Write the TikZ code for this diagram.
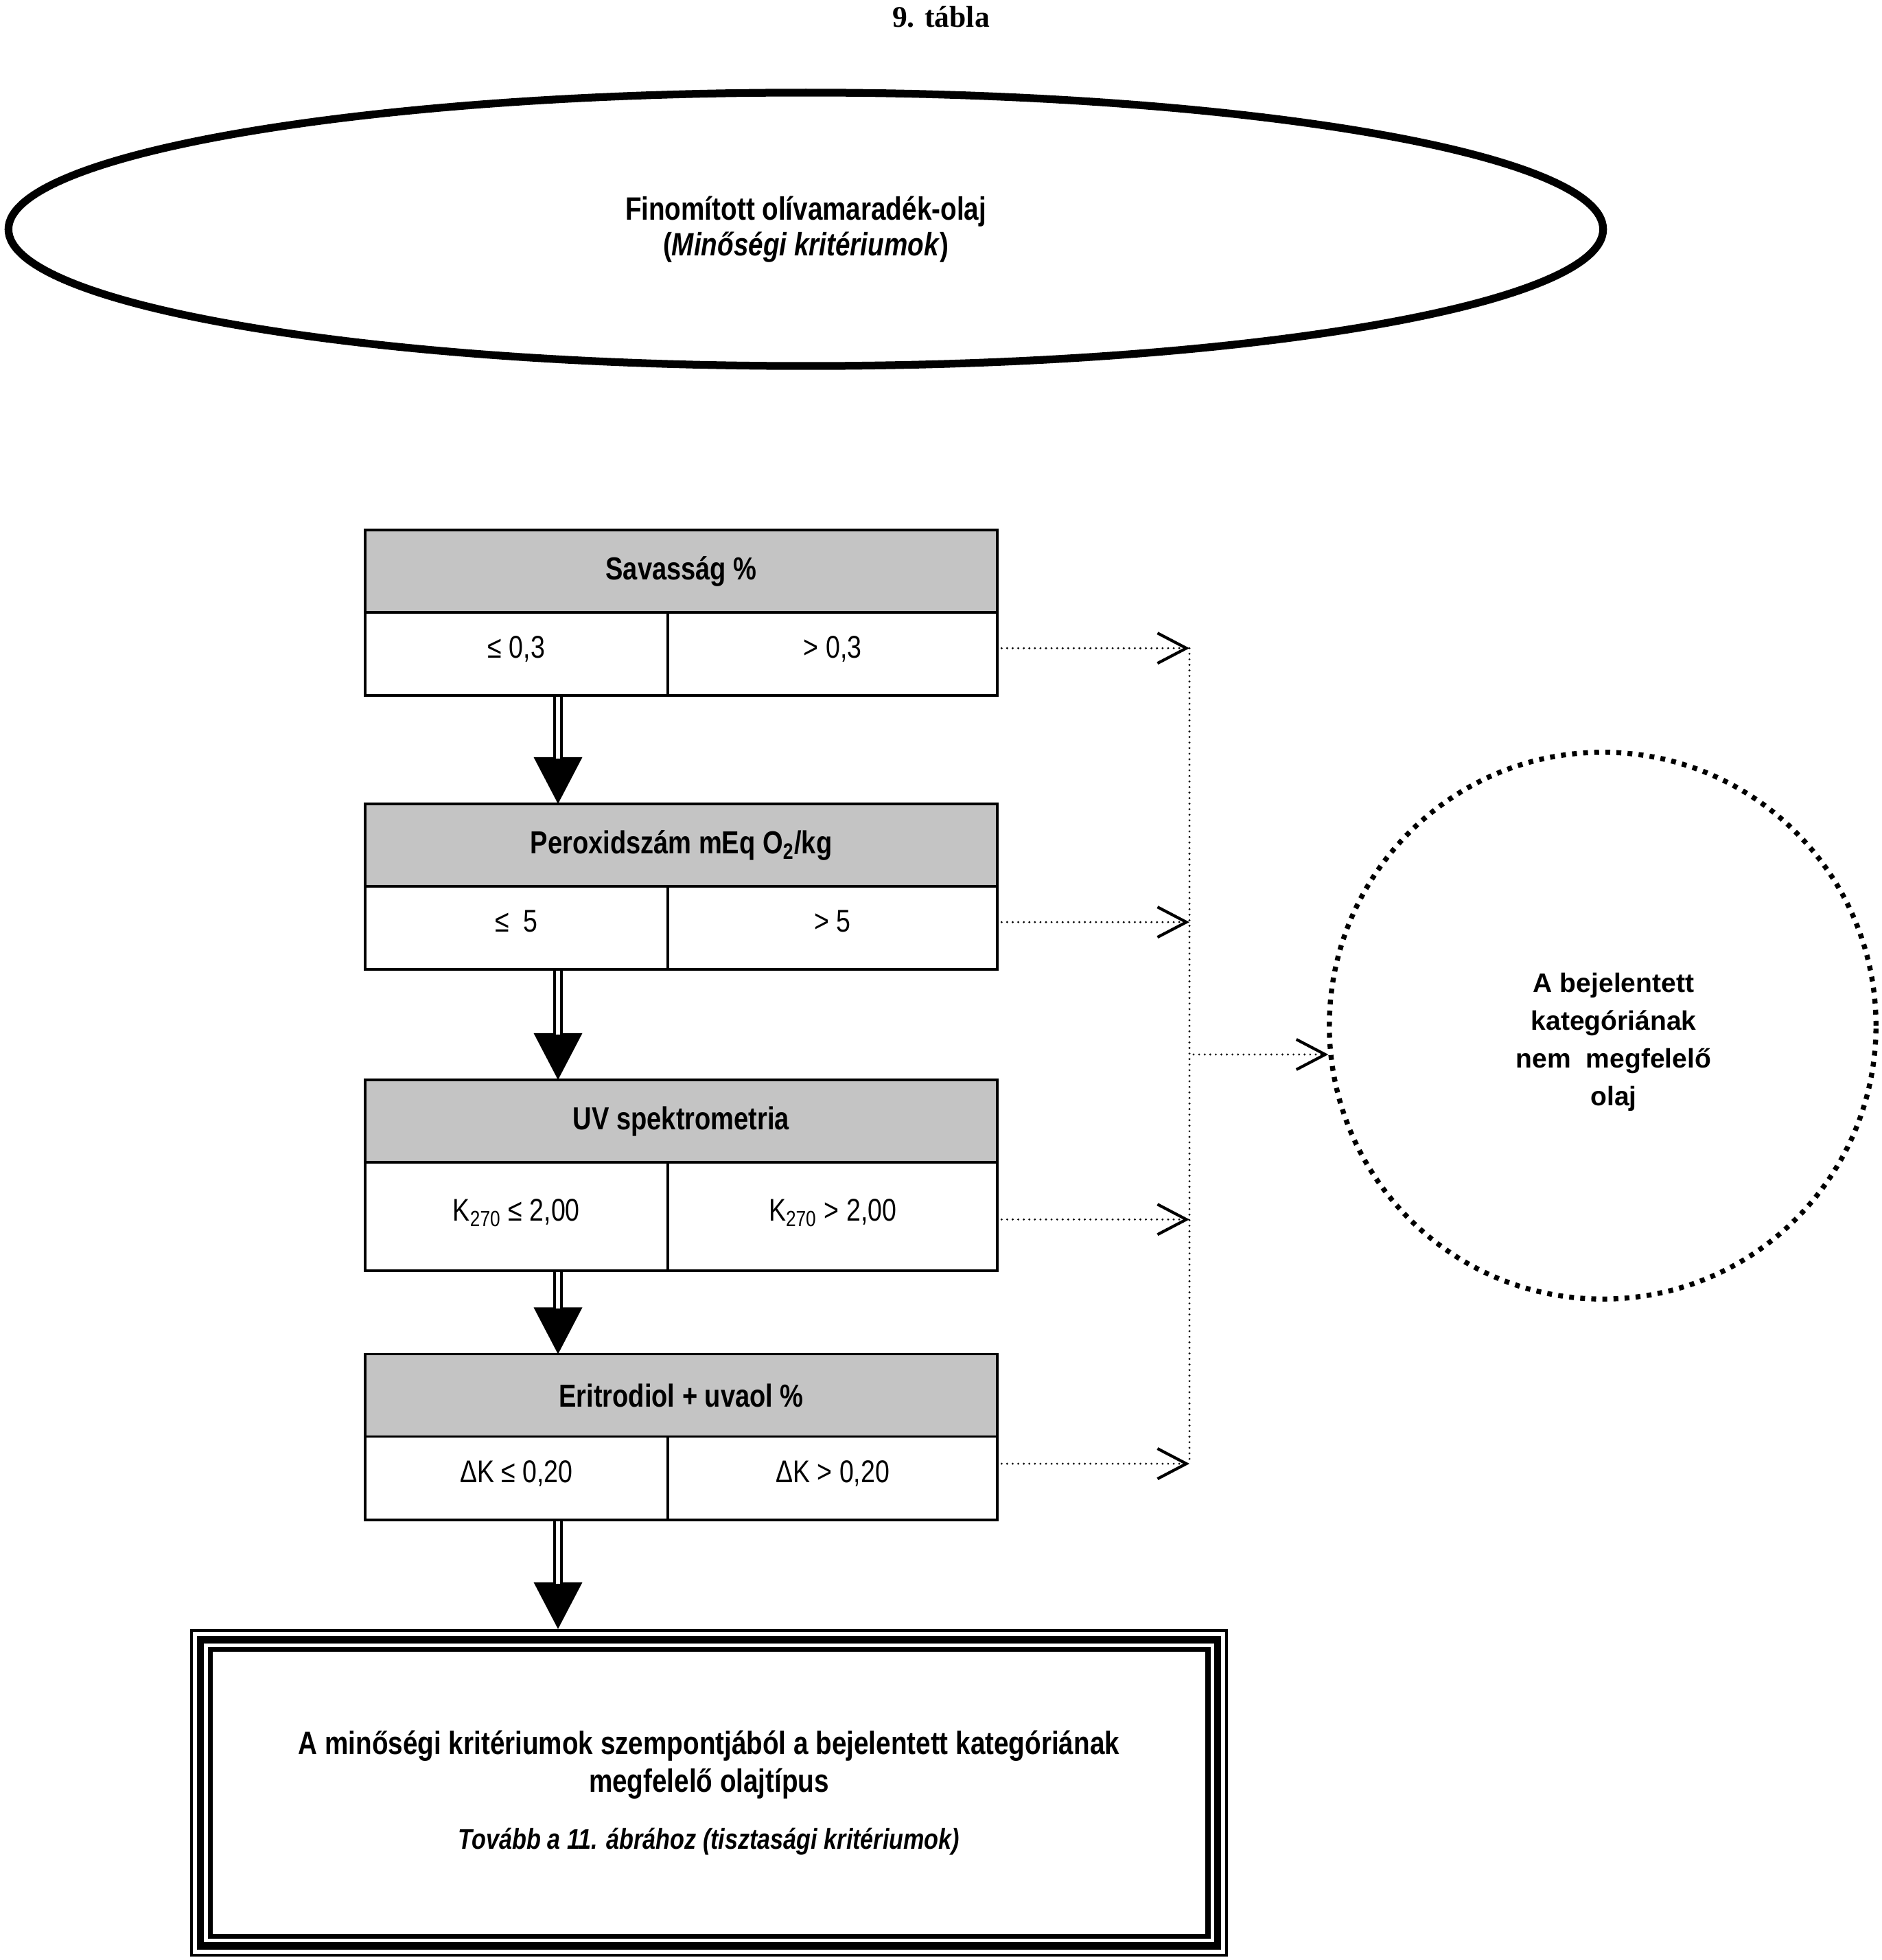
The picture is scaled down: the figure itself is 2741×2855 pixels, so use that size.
\documentclass[tikz,border=0pt]{standalone}
\usepackage{fontspec}
\setmainfont{Liberation Sans}
\newfontfamily\narrowfont{Liberation Sans}[FakeStretch=0.82]
\newfontfamily\tablefont{Liberation Serif}
\usetikzlibrary{arrows.meta,positioning,shapes.geometric,calc}
\definecolor{hdrgray}{HTML}{C4C4C4}

\begin{document}
\begin{tikzpicture}[x=0.01cm,y=-0.01cm,
  hdr/.style={rectangle,draw,line width=1.1pt,outer sep=0pt,fill=hdrgray,minimum width=9.21cm,minimum height=1.2cm,
    inner sep=0pt,font=\narrowfont\bfseries\fontsize{13.2}{15}\selectfont},
  cell/.style={rectangle,draw,line width=1.1pt,outer sep=0pt,minimum height=1.21cm,inner sep=0pt,
    text height=9pt,text depth=5.5pt,font=\narrowfont\fontsize{13}{15}\selectfont},
  lt/.style={cell,anchor=north west,minimum width=4.41cm},
  gt/.style={cell,anchor=north east,minimum width=4.80cm},
  flowline/.style={double,double distance=1.6pt,line width=1.1pt,shorten <=0.6pt,shorten >=0.66cm},
  flowhead/.style={line width=1.1pt,-{Triangle[length=0.68cm,width=0.70cm]}},
  dots/.style={line width=0.9pt,line cap=round,dash pattern=on 0pt off 2.3pt},
  barb/.style={dots,shorten <=0.06cm,-{Straight Barb[length=0.42cm,width=0.44cm,line width=1.2pt]}}]
\useasboundingbox (0,0) rectangle (2741,2855);

% title and oil
\node[font=\tablefont\bfseries\fontsize{12.4}{14}\selectfont] (ttl) at (1371,25) {9. tábla};
\node[ellipse,draw,line width=3.2pt,minimum width=23.22cm,minimum height=3.98cm,align=center,
  font=\narrowfont\bfseries\fontsize{13.4}{14.8}\selectfont] (oil) at (1174,334)
  {Finomított olívamaradék-olaj\\(\textit{Minőségi kritériumok})};

% the four checks
\node[hdr] (h1) at (992.5,832) {Savasság \%};
\node[lt] (l1) at (h1.south west) {≤ 0,3};
\node[gt] (g1) at (h1.south east) {> 0,3};

\node[hdr] (h2) at (992.5,1231) {Peroxidszám mEq O\textsubscript{2}/kg};
\node[lt] (l2) at (h2.south west) {≤~~5};
\node[gt] (g2) at (h2.south east) {> 5};

\node[hdr] (h3) at (992.5,1633) {UV spektrometria};
\node[lt,minimum height=1.58cm] (l3) at (h3.south west) {K\textsubscript{270} ≤ 2,00};
\node[gt,minimum height=1.58cm] (g3) at (h3.south east) {K\textsubscript{270} > 2,00};

\node[hdr] (h4) at (992.5,2032.5) {Eritrodiol + uvaol \%};
\node[lt] (l4) at (h4.south west) {ΔK ≤ 0,20};
\node[gt] (g4) at (h4.south east) {ΔK > 0,20};

% not conforming
\node[circle,draw,line width=2.1pt,dash pattern=on 2pt off 2.6pt,minimum size=7.96cm,inner sep=0pt] (bad) at (2335,1494) {};
\node[align=center,font=\bfseries\fontsize{11.1}{15.6}\selectfont] (badtxt) at ($(bad.center)+(16,24)$)
  {A bejelentett\\kategóriának\\nem~~megfelelő\\olaj};

% conforming
\node[draw,line width=1.15pt,minimum width=15.08cm,minimum height=4.73cm,align=center,
  font=\narrowfont\bfseries\fontsize{13.4}{15.6}\selectfont] (fin) at (1033,2611.5)
  {A minőségi kritériumok szempontjából a bejelentett kategóriának\\megfelelő olajtípus\\[0.28cm]
   {\itshape\fontsize{11.85}{14}\selectfont Tovább a 11. ábrához (tisztasági kritériumok)}};
\draw[line width=3.1pt] ($(fin.north west)+(15.5,15.5)$) rectangle ($(fin.south east)+(-15.5,-15.5)$);
\draw[line width=2pt] ($(fin.north west)+(29.5,29.5)$) rectangle ($(fin.south east)+(-29.5,-29.5)$);

\coordinate (flow) at (813,0);
\coordinate (bus) at (1733,0);

% yes path
\foreach \a/\b in {l1/h2,l2/h3,l3/h4,l4/fin}{
  \draw[flowhead] (\a.south -| flow) -- (\b.north -| flow);
  \draw[flowline] (\a.south -| flow) -- (\b.north -| flow);
}

% no path
\foreach \g/\t in {g1/2.4,g2/2.2,g3/-1.4,g4/5.2}
  \draw[barb] (\g.\t) -- (\g.\t -| bus);
\draw[dots] (g1.2.4 -| bus) -- (g4.5.2 -| bus);
\draw[barb] (bad.186 -| bus) -- (bad.186);
\end{tikzpicture}
\end{document}
